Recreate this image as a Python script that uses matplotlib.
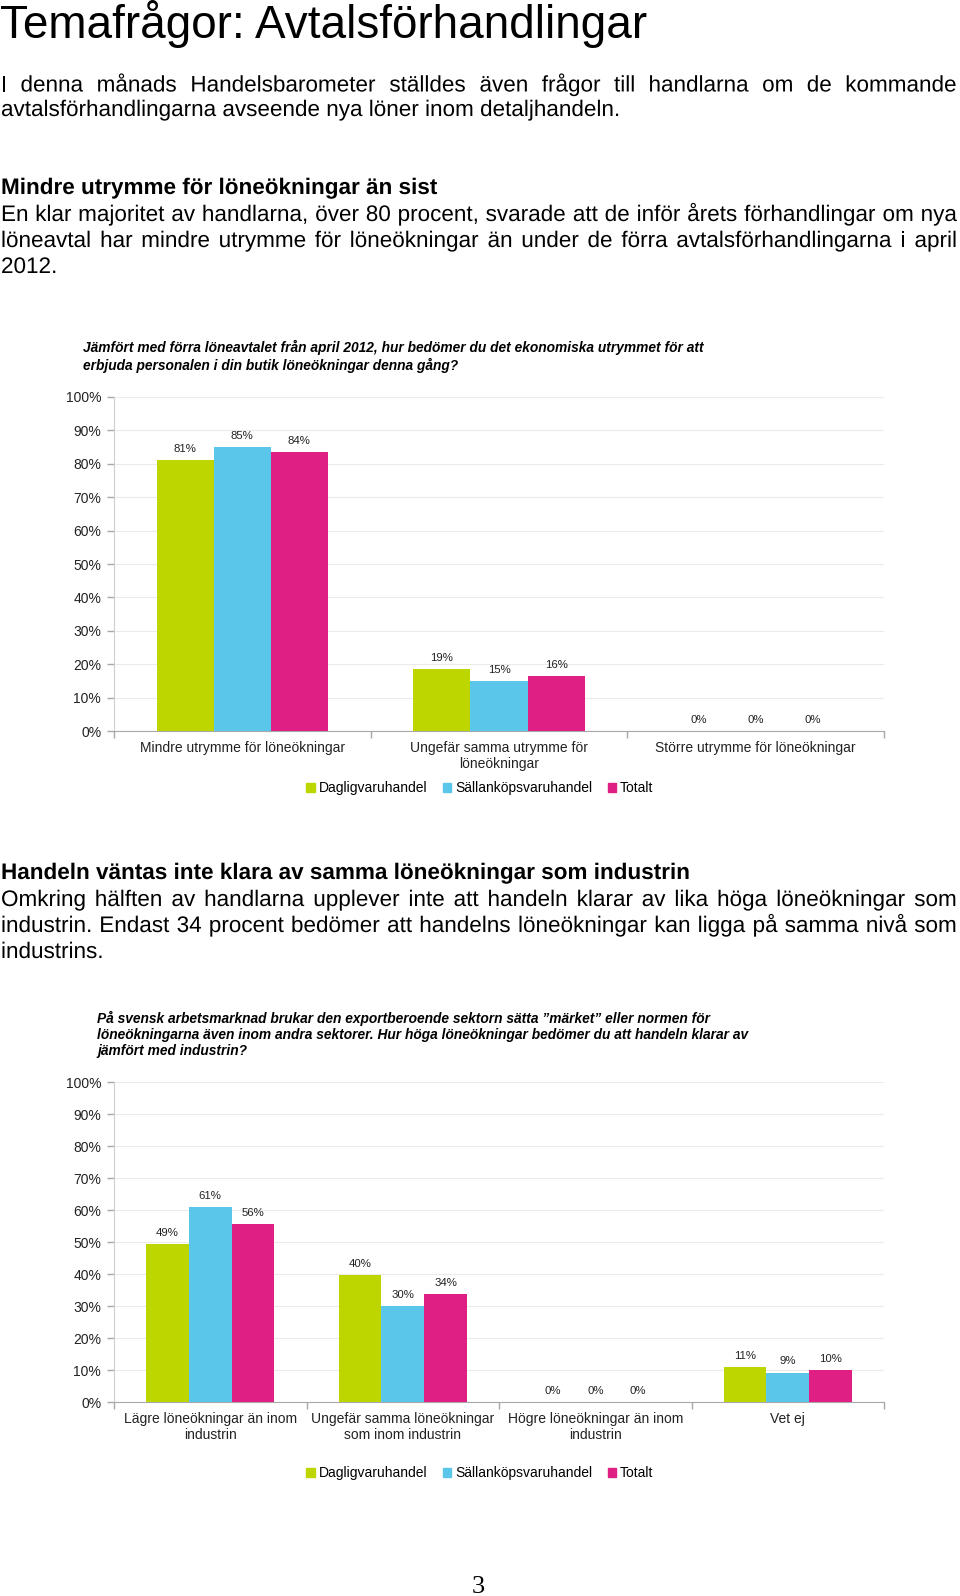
import unicodedata
import matplotlib
matplotlib.use("Agg")
import matplotlib.pyplot as plt
import matplotlib.patheffects as pe
from matplotlib.patches import Patch
from matplotlib.ticker import FuncFormatter, FixedLocator

# --- page size (px) ---
W, H = 960, 1596

plt.rcParams['font.family'] = ['Liberation Sans', 'DejaVu Sans']

# --- text content ---
page_title = "Temafrågor: Avtalsförhandlingar"
intro_lines = [
    "I denna månads Handelsbarometer ställdes även frågor till handlarna om de kommande",
    "avtalsförhandlingarna avseende nya löner inom detaljhandeln.",
]
heading1 = "Mindre utrymme för löneökningar än sist"
para1_lines = [
    "En klar majoritet av handlarna, över 80 procent, svarade att de inför årets förhandlingar om nya",
    "löneavtal har mindre utrymme för löneökningar än under de förra avtalsförhandlingarna i april",
    "2012.",
]
q1_title = ("Jämfört med förra löneavtalet från april 2012, hur bedömer du det ekonomiska utrymmet för att\n"
            "erbjuda personalen i din butik löneökningar denna gång?")
heading2 = "Handeln väntas inte klara av samma löneökningar som industrin"
para2_lines = [
    "Omkring hälften av handlarna upplever inte att handeln klarar av lika höga löneökningar som",
    "industrin. Endast 34 procent bedömer att handelns löneökningar kan ligga på samma nivå som",
    "industrins.",
]
q2_title = ("På svensk arbetsmarknad brukar den exportberoende sektorn sätta ”märket” eller normen för\n"
            "löneökningarna även inom andra sektorer. Hur höga löneökningar bedömer du att handeln klarar av\n"
            "jämfört med industrin?")
page_number = "3"

# --- chart data ---
series_names = ["Dagligvaruhandel", "Sällanköpsvaruhandel", "Totalt"]
series_colors = ["#BED600", "#5AC6EA", "#DF1F84"]

q1_categories = ["Mindre utrymme för löneökningar",
                 "Ungefär samma utrymme för\nlöneökningar",
                 "Större utrymme för löneökningar"]
q1_daglig = [81.2, 18.6, 0]
q1_sallan = [84.9, 14.9, 0]
q1_totalt = [83.6, 16.4, 0]

q2_categories = ["Lägre löneökningar än inom\nindustrin",
                 "Ungefär samma löneökningar\nsom inom industrin",
                 "Högre löneökningar än inom\nindustrin",
                 "Vet ej"]
q2_daglig = [49.4, 39.6, 0, 10.9]
q2_sallan = [60.8, 29.9, 0, 9.2]
q2_totalt = [55.7, 33.8, 0, 9.9]
y_ticks = [0, 10, 20, 30, 40, 50, 60, 70, 80, 90, 100]

BODY = 16.2
TEXT_X0, TEXT_X1 = 1, 957
AS_PATH = [pe.Normal()]  # draw body words as outlines so baselines stay aligned

fig = plt.figure(figsize=(W / 100, H / 100), dpi=100)
renderer = fig.canvas.get_renderer()


def clean(s):
    return unicodedata.normalize('NFC', s)


def fx(x):
    return x / W


def fy(y):
    return 1 - y / H


def text_line(s, y, size=BODY, weight='normal', justify=False):
    # y is the baseline in page pixels
    s = clean(s)
    if not justify:
        fig.text(fx(TEXT_X0), fy(y), s, fontsize=size, fontweight=weight,
                 ha='left', va='baseline', path_effects=AS_PATH)
        return
    words = s.split()
    arts = [fig.text(0, fy(y), w, fontsize=size, fontweight=weight,
                     ha='left', va='baseline', path_effects=AS_PATH) for w in words]
    widths = [a.get_window_extent(renderer).width for a in arts]
    gap = (TEXT_X1 - TEXT_X0 - sum(widths)) / (len(words) - 1)
    x = TEXT_X0
    for a, w in zip(arts, widths):
        a.set_x(fx(x))
        x += w + gap


def paragraph(lines, y0, step):
    for i, s in enumerate(lines):
        text_line(s, y0 + i * step, justify=(i < len(lines) - 1))


def bar_chart(rect, categories, values, title, title_x, title_y, legend_y):
    ax = fig.add_axes(rect)
    n = len(categories)
    bw = 2 / 9
    for k, (vals, col) in enumerate(zip(values, series_colors)):
        xs = [i + (k - 1) * bw for i in range(n)]
        ax.bar(xs, vals, width=bw, color=col, zorder=3)
        for x, v in zip(xs, vals):
            ax.annotate(f"{v:.0f}%", (x, v), xytext=(0, 8), textcoords='offset points',
                        ha='center', va='center', fontsize=8.2, color='#222222')
    ax.set_xlim(-0.5, n - 0.5)
    ax.set_ylim(0, 100)
    ax.yaxis.set_major_locator(FixedLocator(y_ticks))
    ax.yaxis.set_major_formatter(FuncFormatter(lambda v, p: f"{v:.0f}%"))
    ax.grid(axis='y', color='#EBEBEB', linewidth=0.8, zorder=0)
    ax.set_xticks(range(n))
    ax.set_xticklabels([clean(c) for c in categories], fontsize=10, color='#222222',
                       linespacing=1.25)
    ax.set_xticks([i - 0.5 for i in range(n + 1)], minor=True)
    ax.tick_params(axis='x', which='major', length=0, pad=7)
    ax.tick_params(axis='x', which='minor', length=5, color='#A8A8A8', width=1)
    ax.tick_params(axis='y', length=5, color='#A8A8A8', width=1, pad=4.2,
                   labelsize=10, labelcolor='#222222')
    for side in ('top', 'right'):
        ax.spines[side].set_visible(False)
    ax.spines['bottom'].set_color('#A8A8A8')
    ax.spines['left'].set_color('#D0D0D0')
    fig.text(fx(title_x), fy(title_y), clean(title), fontsize=9.9, fontweight='bold',
             fontstyle='italic', ha='left', va='top', linespacing=1.2)
    handles = [Patch(color=c, label=clean(s)) for c, s in zip(series_colors, series_names)]
    fig.legend(handles=handles, loc='center', bbox_to_anchor=(fx(480), fy(legend_y)),
               ncol=3, frameon=False, fontsize=10, handlelength=0.6, handleheight=0.6,
               handletextpad=0.3, columnspacing=1.1)
    return ax


# --- page text ---
fig.text(fx(0), fy(38), clean(page_title), fontsize=33, ha='left', va='baseline')
paragraph(intro_lines, 91.5, 24.5)
text_line(heading1, 194, weight='bold')
paragraph(para1_lines, 221, 26)
text_line(heading2, 879, weight='bold')
paragraph(para2_lines, 906, 26)
fig.text(fx(478), fy(1587), page_number, fontsize=19, family='Liberation Serif',
         ha='center', va='center')

# --- charts ---
bar_chart([fx(114), fy(731), 770 / W, 334 / H], q1_categories,
          [q1_daglig, q1_sallan, q1_totalt], q1_title, 83, 340, 788)
bar_chart([fx(114), fy(1402), 770 / W, 320 / H], q2_categories,
          [q2_daglig, q2_sallan, q2_totalt], q2_title, 97, 1011, 1473)

fig.savefig("out.png", dpi=100)
